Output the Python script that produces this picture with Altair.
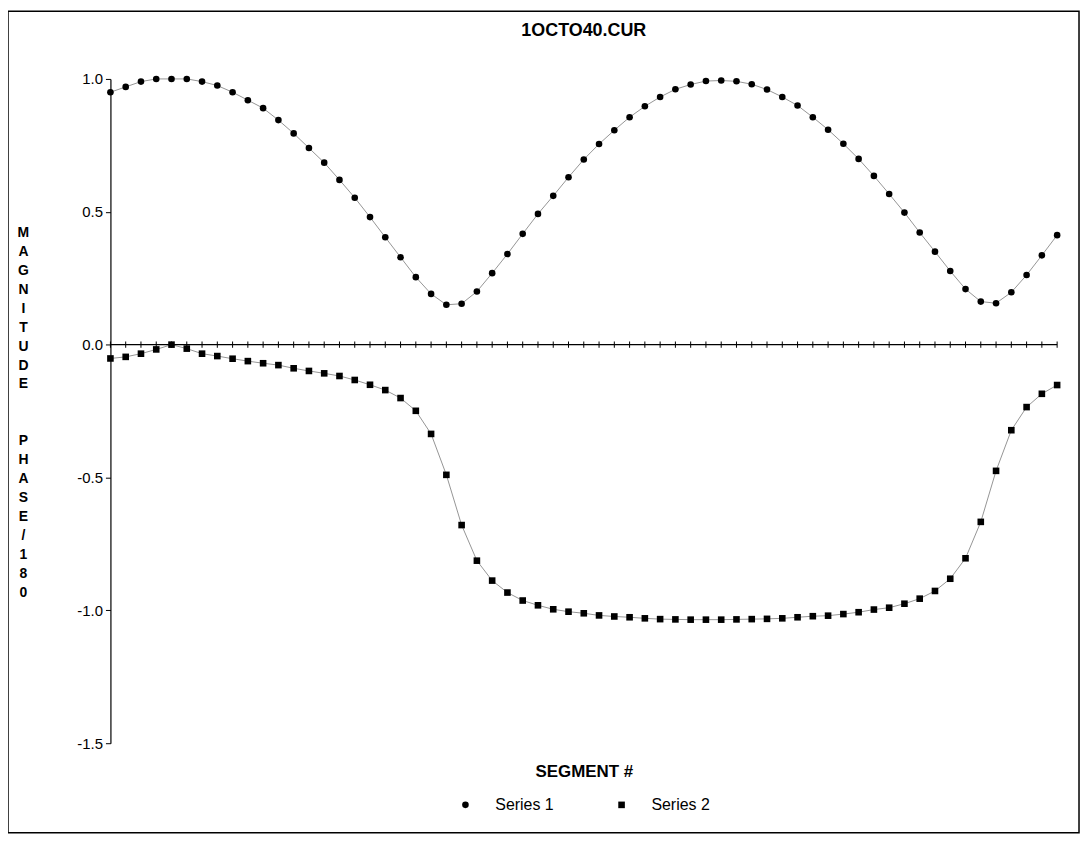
import altair as alt
import pandas as pd

# ---------------- data ----------------
segments = list(range(1, 64))

series1 = [0.95, 0.97, 0.99, 1.0, 1.0, 1.0, 0.99, 0.975, 0.95, 0.92,
           0.89, 0.845, 0.795, 0.74, 0.685, 0.62, 0.553, 0.48, 0.404, 0.329,
           0.254, 0.191, 0.15, 0.154, 0.2, 0.269, 0.341, 0.417, 0.492, 0.56,
           0.63, 0.697, 0.755, 0.807, 0.856, 0.897, 0.932, 0.961, 0.979, 0.992,
           0.994, 0.991, 0.98, 0.96, 0.932, 0.9, 0.856, 0.809, 0.756, 0.699,
           0.635, 0.567, 0.497, 0.422, 0.35, 0.277, 0.209, 0.162, 0.156, 0.197,
           0.262, 0.336, 0.412]

series2 = [-0.052, -0.046, -0.034, -0.018, 0.0, -0.015, -0.034, -0.043, -0.053, -0.062,
           -0.07, -0.077, -0.089, -0.099, -0.108, -0.118, -0.133, -0.151, -0.171, -0.201,
           -0.249, -0.336, -0.49, -0.679, -0.813, -0.888, -0.933, -0.963, -0.981, -0.996,
           -1.005, -1.011, -1.019, -1.023, -1.026, -1.03, -1.033, -1.034, -1.035, -1.035,
           -1.035, -1.034, -1.033, -1.032, -1.03, -1.026, -1.022, -1.02, -1.014, -1.007,
           -0.997, -0.99, -0.975, -0.956, -0.927, -0.881, -0.804, -0.667, -0.475, -0.322,
           -0.235, -0.185, -0.152]

series_names = ["Series 1", "Series 2"]
series_shapes = ["circle", "square"]
y_ticks = [-1.5, -1.0, -0.5, 0.0, 0.5, 1.0]
BLANK = "\u2800"
y_title = ["M", "A", "G", "N", "I", "T", "U", "D", "E", BLANK, BLANK,
           "P", "H", "A", "S", "E", "/", "1", "8", "0"]
chart_title = "1OCTO40.CUR"
x_title = "SEGMENT #"

df = pd.DataFrame({
    "seg": segments + segments,
    "value": series1 + series2,
    "series": [series_names[0]] * len(segments) + [series_names[1]] * len(segments),
})
axis_df = pd.DataFrame({"seg": segments})

FONT = "Liberation Sans"
x_scale = alt.Scale(domain=[min(segments), max(segments)], nice=False, zero=False)
y_scale = alt.Scale(domain=[min(y_ticks), max(y_ticks)], nice=False, zero=False)

x_enc = alt.X("seg:Q", scale=x_scale, axis=alt.Axis(
    title=x_title, labels=False, ticks=False, domain=False, grid=False,
    titlePadding=20, titleFontSize=17, titleFontWeight="bold",
    titleFont=FONT, titleColor="black"))

y_enc = alt.Y("value:Q", scale=y_scale, axis=alt.Axis(
    values=y_ticks, grid=False,
    labelExpr="replace(format(datum.value, '.1f'), '\u2212', '-')",
    labelFont=FONT, labelFontSize=15, labelColor="black", labelPadding=3,
    tickColor="black", tickSize=5, domainColor="black", domainWidth=1.2,
    title=y_title, titleAngle=0, titleAlign="center", titleBaseline="top",
    titleX=-88, titleY=147, titleLineHeight=19.1, titleFontSize=14,
    titleFontWeight="bold", titleFont=FONT, titleColor="black"))

lines = alt.Chart(df).mark_line(color="black", strokeWidth=0.7, opacity=0.6).encode(
    x=x_enc, y=y_enc, detail="series:N")

points = alt.Chart(df).mark_point(filled=True, color="black", opacity=1, size=44).encode(
    x="seg:Q", y="value:Q",
    shape=alt.Shape("series:N", scale=alt.Scale(domain=series_names, range=series_shapes),
                    legend=alt.Legend(title=None, orient="none", legendX=349, legendY=722,
                                      direction="horizontal", columns=2, columnPadding=60,
                                      labelFont=FONT, labelFontSize=16, labelColor="black",
                                      labelOffset=22, symbolSize=44, symbolFillColor="black",
                                      symbolStrokeColor="black")))

zero_line = alt.Chart(axis_df).mark_rule(color="black", strokeWidth=1.2).encode(
    x="min(seg):Q", x2="max(seg):Q", y=alt.datum(0))

zero_ticks = alt.Chart(axis_df).mark_point(shape="M0,-1L0,1", size=40, color="black",
                                           strokeWidth=1, filled=False, opacity=1).encode(
    x="seg:Q", y=alt.datum(0))

frame = alt.Chart(pd.DataFrame({"seg": [1]})).mark_rect(
    fillOpacity=0, stroke="black", strokeWidth=1.5).encode(
    x=alt.value(-103), x2=alt.value(974), y=alt.value(-68), y2=alt.value(758))

chart = alt.layer(frame, lines, zero_line, zero_ticks, points).properties(
    width=952, height=668,
    title=alt.TitleParams(chart_title, fontSize=18, fontWeight="bold", font=FONT,
                          color="black", anchor="middle", frame="group", offset=-30),
    padding={"left": 103, "top": 69, "right": 24, "bottom": 95},
    autosize=alt.AutoSizeParams(type="none"),
).configure_view(stroke=None)

chart.save("out.html", embed_options={"renderer": "svg", "actions": False})
